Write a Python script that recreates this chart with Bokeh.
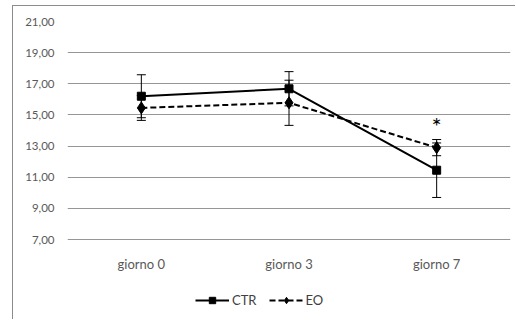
from bokeh.plotting import figure
from bokeh.models import (ColumnDataSource, Whisker, FixedTicker, Legend, LegendItem, Range1d)
from bokeh.core.properties import value
from bokeh.embed import file_html
from bokeh.resources import INLINE

days = ["giorno 0", "giorno 3", "giorno 7"]
ctr_mean = [16.2, 16.68, 11.45]
ctr_err = [1.38, 1.1, 1.75]
eo_mean = [15.45, 15.78, 12.9]
eo_err = [0.8, 1.45, 0.52]
y_ticks = [7, 9, 11, 13, 15, 17, 19, 21]
y_labels = ["7,00", "9,00", "11,00", "13,00", "15,00", "17,00", "19,00", "21,00"]
sig_day = ["giorno 7"]
sig_y = [14.3]
sig_text = ["*"]

FONT = "Lato"

# plot area: 7..21 over 218 px, plus 80 px below for category labels and legend
Y_MIN, Y_MAX = 7, 21
EXTRA = 80 * (Y_MAX - Y_MIN) / 218

ctr = ColumnDataSource(dict(x=days, y=ctr_mean,
                            lo=[m - e for m, e in zip(ctr_mean, ctr_err)],
                            hi=[m + e for m, e in zip(ctr_mean, ctr_err)]))
eo = ColumnDataSource(dict(x=days, y=eo_mean,
                           lo=[m - e for m, e in zip(eo_mean, eo_err)],
                           hi=[m + e for m, e in zip(eo_mean, eo_err)]))

p = figure(x_range=days, y_range=Range1d(Y_MIN - EXTRA, Y_MAX), frame_width=443, frame_height=298,
           output_backend="svg", toolbar_location=None,
           min_border_left=54, min_border_right=5, min_border_top=15, min_border_bottom=0,
           styles={"margin-left": "12px", "margin-top": "5px",
                   "border-left": "1px solid #8c8c8c", "border-top": "1px solid #8c8c8c"})
p.outline_line_color = None
p.xgrid.grid_line_color = None
p.ygrid.grid_line_color = "#969696"
p.ygrid.grid_line_width = 1
p.yaxis.ticker = FixedTicker(ticks=y_ticks)
p.yaxis.major_label_overrides = {t: l for t, l in zip(y_ticks, y_labels)}
p.xaxis.fixed_location = Y_MIN
for ax in (p.xaxis, p.yaxis):
    ax.axis_line_color = None
    ax.major_tick_line_color = None
    ax.minor_tick_line_color = None
    ax.major_tick_out = 0
    ax.major_tick_in = 0
    ax.major_label_text_font = FONT
    ax.major_label_text_color = "#595959"
p.yaxis.major_label_text_font_size = "11.5px"
p.yaxis.major_label_standoff = 13
p.xaxis.major_label_text_font_size = "13px"
p.xaxis.major_label_standoff = 16

w1 = Whisker(source=ctr, base="x", lower="lo", upper="hi", line_color="black", line_width=1)
w1.upper_head.size = 9; w1.lower_head.size = 9
w1.upper_head.line_color = "black"; w1.lower_head.line_color = "black"
w2 = Whisker(source=eo, base="x", lower="lo", upper="hi", line_color="black", line_width=1)
w2.upper_head.size = 9; w2.lower_head.size = 9
w2.upper_head.line_color = "black"; w2.lower_head.line_color = "black"
p.add_layout(w1)
p.add_layout(w2)

l1 = p.line("x", "y", source=ctr, line_color="black", line_width=2)
m1 = p.scatter("x", "y", source=ctr, marker="square", size=8, color="black")
l2 = p.line("x", "y", source=eo, line_color="black", line_width=2, line_dash="6 3")
m2 = p.scatter("x", "y", source=eo, marker="diamond", size=12, color="black")

p.text(x=sig_day, y=sig_y, text=sig_text, text_align="center", text_baseline="middle",
       text_font_size="24px", text_font=value(FONT), text_color="black")

legend = Legend(items=[LegendItem(label="CTR", renderers=[l1, m1]),
                       LegendItem(label="EO", renderers=[l2, m2])],
                orientation="horizontal", location=(128, 11),
                label_text_font=FONT, label_text_font_size="13px", label_text_color="#404040",
                glyph_width=34, glyph_height=16, label_standoff=3, spacing=12, padding=2, margin=0,
                border_line_color=None, background_fill_alpha=0)
p.add_layout(legend)

open("out.html", "w").write(file_html(p, INLINE))
